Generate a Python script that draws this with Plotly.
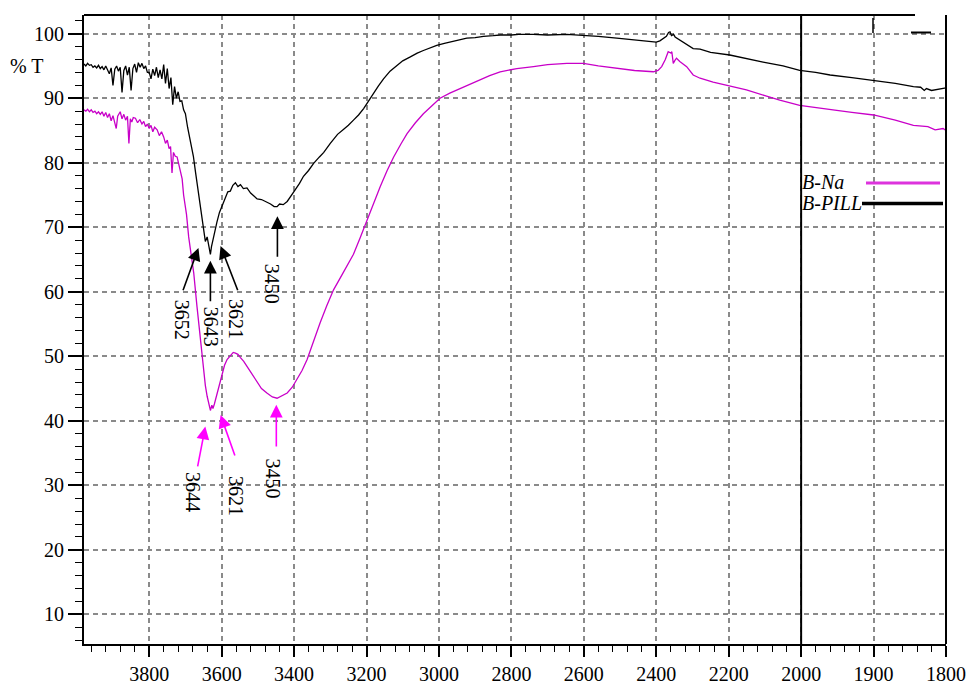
import plotly.graph_objects as go

# ---------------- data (wavenumber cm-1, %T) ----------------
pill_x = [3980,3975,3970,3965,3960,3955,3950,3945,3940,3935,3930,3925,3920,3915,3910,3905,3900,3895,3890,3885,
          3880,3875,3870,3865,3860,3855,3850,3845,3840,3835,3830,3825,3820,3815,3810,3805,3800,3795,3790,3785,
          3780,3775,3770,3765,3760,3755,3750,3745,3740,3735,3730,3725,3720,3715,3710,3705,3700,3694,3686,3678,
          3672,3666,3660,3654,3649,3645,3640,3636,3633,3631,3628,3625,3622,3617,3613,3606,3599,3590,3583,3576,
          3569,3562,3555,3548,3540,3530,3520,3510,3502,3490,3475,3465,3455,3447,3440,3430,3419,3410,3397,3385,
          3374,3360,3346,3330,3318,3300,3290,3280,3263,3250,3236,3222,3208,3195,3181,3167,3153,3135,3116,3100,
          3079,3060,3043,3025,3006,2985,2969,2945,2923,2900,2877,2850,2831,2800,2780,2740,2700,2647,2602,2560,
          2509,2460,2420,2400,2390,2381,2372,2366,2362,2358,2352,2348,2340,2330,2315,2298,2279,2250,2197,2150,
          2105,2050,2004,1980,1960,1930,1900,1870,1845,1835,1830,1827,1820,1810,1800]
pill_y = [95.3,95.0,95.4,95.1,95.2,94.8,95.0,94.7,95.1,94.6,94.9,94.4,95.0,94.5,93.8,94.7,92.0,94.5,95.0,94.2,
          94.8,90.9,94.3,95.0,93.6,94.8,91.2,94.6,95.3,94.0,95.5,94.8,95.4,94.6,95.0,94.0,94.0,93.0,94.5,93.5,
          94.8,93.2,94.4,93.0,95.2,92.3,94.6,91.5,93.2,89.0,91.8,90.0,91.0,89.5,89.6,88.2,87.6,85.5,83.5,81.0,
          78.5,76.0,73.5,71.6,69.0,67.8,68.5,67.5,66.5,65.8,67.0,67.8,68.7,70.0,70.8,72.3,73.3,74.3,75.5,75.6,
          76.5,76.9,76.3,76.6,76.0,76.1,75.3,74.8,74.4,74.3,73.9,73.6,73.2,73.2,73.6,73.5,74.0,74.8,75.8,76.8,
          77.9,78.8,79.9,80.9,81.6,83.0,83.7,84.4,85.2,85.8,86.6,87.4,88.4,89.6,90.7,91.9,93.0,94.2,95.1,95.8,
          96.4,97.0,97.4,97.8,98.2,98.5,98.7,99.0,99.3,99.4,99.6,99.7,99.8,99.8,99.9,99.9,99.8,99.9,99.8,99.6,
          99.3,99.0,98.8,98.7,98.9,99.3,99.6,100.2,100.3,99.7,99.9,99.5,99.2,98.9,98.3,97.7,97.6,97.1,96.7,96.1,
          95.6,95.0,94.3,94.0,93.6,93.2,92.8,92.3,91.8,91.7,91.2,91.5,91.2,91.4,91.6]

na_x = [3980,3975,3970,3965,3960,3955,3950,3945,3940,3935,3930,3925,3920,3915,3910,3905,3900,3895,3891,3887,
        3880,3875,3870,3865,3860,3856,3852,3848,3844,3838,3832,3826,3820,3815,3810,3805,3800,3795,3790,3785,
        3778,3772,3766,3760,3755,3750,3745,3741,3737,3733,3728,3723,3718,3714,3709,3705,3697,3691,3684,3677,
        3668,3659,3654,3649,3645,3640,3635,3631,3627,3624,3620,3616,3613,3606,3599,3592,3585,3575,3568,3562,
        3555,3548,3539,3525,3512,3500,3490,3475,3460,3447,3435,3419,3405,3392,3378,3364,3346,3328,3310,3300,
        3291,3272,3255,3236,3218,3199,3180,3162,3143,3125,3105,3088,3065,3043,3020,2997,2970,2941,2915,2886,
        2860,2831,2800,2785,2739,2700,2647,2601,2560,2509,2460,2408,2395,2385,2375,2367,2360,2357,2353,2348,
        2344,2335,2316,2298,2279,2243,2200,2151,2100,2059,2004,1980,1956,1930,1900,1870,1845,1825,1815,1804,1800]
na_y = [88.2,88.0,88.3,87.9,88.2,87.8,88.0,87.6,87.9,87.5,87.9,87.2,87.8,87.0,87.6,86.5,87.3,86.0,85.3,87.2,
        87.9,86.8,87.5,86.6,87.2,83.0,86.8,86.3,87.0,86.9,86.2,86.7,86.0,86.4,85.6,86.0,85.3,85.8,84.8,85.5,
        85.1,84.2,84.8,84.0,83.0,83.5,82.2,82.5,78.4,81.6,81.0,80.9,79.8,78.9,77.5,75.0,72.0,68.5,65.5,62.9,
        57.7,52.6,50.0,47.4,45.5,43.8,42.4,41.6,42.4,41.9,42.6,43.5,44.3,45.9,47.4,48.6,49.5,50.2,50.6,50.5,
        50.3,49.8,49.2,48.0,46.9,45.8,45.0,44.3,43.7,43.5,43.8,44.3,45.2,46.4,47.8,49.5,52.4,55.2,57.8,59.1,
        60.3,62.2,63.9,65.8,68.3,71.1,73.8,76.3,78.8,80.9,82.9,84.5,86.2,87.6,88.8,90.0,90.8,91.5,92.2,92.8,
        93.5,94.1,94.5,94.6,94.9,95.2,95.4,95.4,95.0,94.6,94.3,94.1,94.3,94.9,96.0,97.2,97.0,97.2,95.4,95.9,
        96.2,95.7,94.9,93.6,93.1,92.5,91.9,91.3,90.4,89.7,88.9,88.6,88.2,87.8,87.4,86.6,85.8,85.6,85.1,85.3,85.0]

x_ticks = [3800, 3600, 3400, 3200, 3000, 2800, 2600, 2400, 2200, 2000, 1900, 1800]
y_ticks = [10, 20, 30, 40, 50, 60, 70, 80, 90, 100]

# peak labels: (text, colour, head_x, head_y, tail_x, tail_y, label_x, label_y)
peak_labels = [
    ("3652", "black",   3664, 66.8, 3708, 60.0, 3711, 55.6),
    ("3643", "black",   3631, 64.8, 3631, 58.3, 3631, 54.5),
    ("3621", "black",   3603, 67.1, 3554, 60.0, 3559, 55.7),
    ("3450", "black",   3446, 71.7, 3446, 65.2, 3460, 61.2),
    ("3644", "#ff00ff", 3645, 39.1, 3667, 32.7, 3681, 28.9),
    ("3621", "#ff00ff", 3603, 40.9, 3562, 34.4, 3562, 28.3),
    ("3450", "#ff00ff", 3449, 42.5, 3449, 35.8, 3457, 31.0),
]

# ---------------- axis break: 2000-1800 is stretched x2 ----------------
def tx(v):
    return v if v >= 2000 else 2000 - 2 * (2000 - v)

SERIF = "Liberation Serif, Times New Roman, serif"
MAG = "#c800c8"

PL, PR, PT, PB = 84, 946, 15, 644   # plot area in pixels
PW, PH = PR - PL, PB - PT

def px(v):
    return (v - PL) / PW

def py(v):
    return (PB - v) / PH

fig = go.Figure()
fig.add_trace(go.Scatter(x=[tx(v) for v in pill_x], y=pill_y, mode="lines",
                         line=dict(color="black", width=1.3), name="B-PILL", showlegend=False))
fig.add_trace(go.Scatter(x=[tx(v) for v in na_x], y=na_y, mode="lines",
                         line=dict(color=MAG, width=1.3), name="B-Na", showlegend=False))

annotations = []
for text, col, hx, hy, tx_, ty, lx, ly in peak_labels:
    annotations.append(dict(x=tx(hx), y=hy, ax=tx(tx_), ay=ty, axref="x", ayref="y",
                            xref="x", yref="y", text="", showarrow=True,
                            arrowhead=2, arrowsize=1.6, arrowwidth=1.6, arrowcolor=col))
    annotations.append(dict(x=tx(lx), y=ly, xref="x", yref="y", text=text, showarrow=False,
                            textangle=90, font=dict(family=SERIF, size=20, color="black")))

annotations.append(dict(x=px(27), y=py(66), xref="paper", yref="paper", text="% T", showarrow=False,
                        xanchor="center", yanchor="middle",
                        font=dict(family=SERIF, size=20, color="black")))
annotations.append(dict(x=px(846), y=py(182), xref="paper", yref="paper",
                        text="<i>B-Na</i>", showarrow=False, xanchor="right", yanchor="middle",
                        font=dict(family=SERIF, size=20, color="black")))
annotations.append(dict(x=px(864), y=py(203), xref="paper", yref="paper",
                        text="<i>B-PILL</i>", showarrow=False, xanchor="right", yanchor="middle",
                        font=dict(family=SERIF, size=20, color="black")))

shapes = [
    dict(type="line", xref="x", yref="paper", x0=tx(2000), x1=tx(2000), y0=0, y1=1,
         line=dict(color="black", width=2)),
    dict(type="line", xref="paper", yref="paper", x0=0, x1=px(915), y0=1, y1=1,
         line=dict(color="black", width=2)),
    dict(type="line", xref="paper", yref="paper", x0=1, x1=1, y0=0, y1=1,
         line=dict(color="black", width=2)),
    # small marks at the top right corner of the original scan
    dict(type="line", xref="paper", yref="paper", x0=px(873), x1=px(873), y0=py(18), y1=py(33),
         line=dict(color="black", width=1.5)),
    dict(type="line", xref="paper", yref="paper", x0=px(911), x1=px(931), y0=py(32.5), y1=py(32.5),
         line=dict(color="black", width=2)),
    # legend samples
    dict(type="line", xref="paper", yref="paper", x0=px(866), x1=px(940),
         y0=py(183), y1=py(183), line=dict(color="#dd33dd", width=3)),
    dict(type="line", xref="paper", yref="paper", x0=px(862), x1=px(943),
         y0=py(203.5), y1=py(203.5), line=dict(color="black", width=3.5)),
]

fig.update_layout(
    width=970, height=684,
    margin=dict(l=PL, r=970 - PR, t=PT, b=684 - PB),
    plot_bgcolor="white", paper_bgcolor="white",
    showlegend=False,
    annotations=annotations,
    shapes=shapes,
    xaxis=dict(range=[3980, 1600], tickmode="array", automargin=False,
               tickvals=[tx(v) for v in x_ticks], ticktext=[str(v) for v in x_ticks],
               ticks="outside", ticklen=11, tickwidth=1.5, tickcolor="black",
               showline=True, linecolor="black", linewidth=2,
               showgrid=True, gridcolor="#8a8a8a", gridwidth=1.5, griddash="5px,4px",
               zeroline=False,
               minor=dict(tickmode="linear", tick0=3800, dtick=40, ticks="outside", ticklen=6,
                          tickwidth=1.2, tickcolor="black", showgrid=False),
               tickfont=dict(family=SERIF, size=20, color="black")),
    yaxis=dict(range=[5.4, 102.9], tickmode="array", tickvals=y_ticks, automargin=False,
               ticks="outside", ticklen=14, tickwidth=1.5, tickcolor="black",
               showline=True, linecolor="black", linewidth=2,
               showgrid=True, gridcolor="#8a8a8a", gridwidth=1.5, griddash="5px,4px",
               zeroline=False,
               minor=dict(tickmode="linear", tick0=0, dtick=2, ticks="outside", ticklen=7,
                          tickwidth=1.2, tickcolor="black", showgrid=False),
               tickfont=dict(family=SERIF, size=20, color="black")),
)

fig.write_html("out.html")
